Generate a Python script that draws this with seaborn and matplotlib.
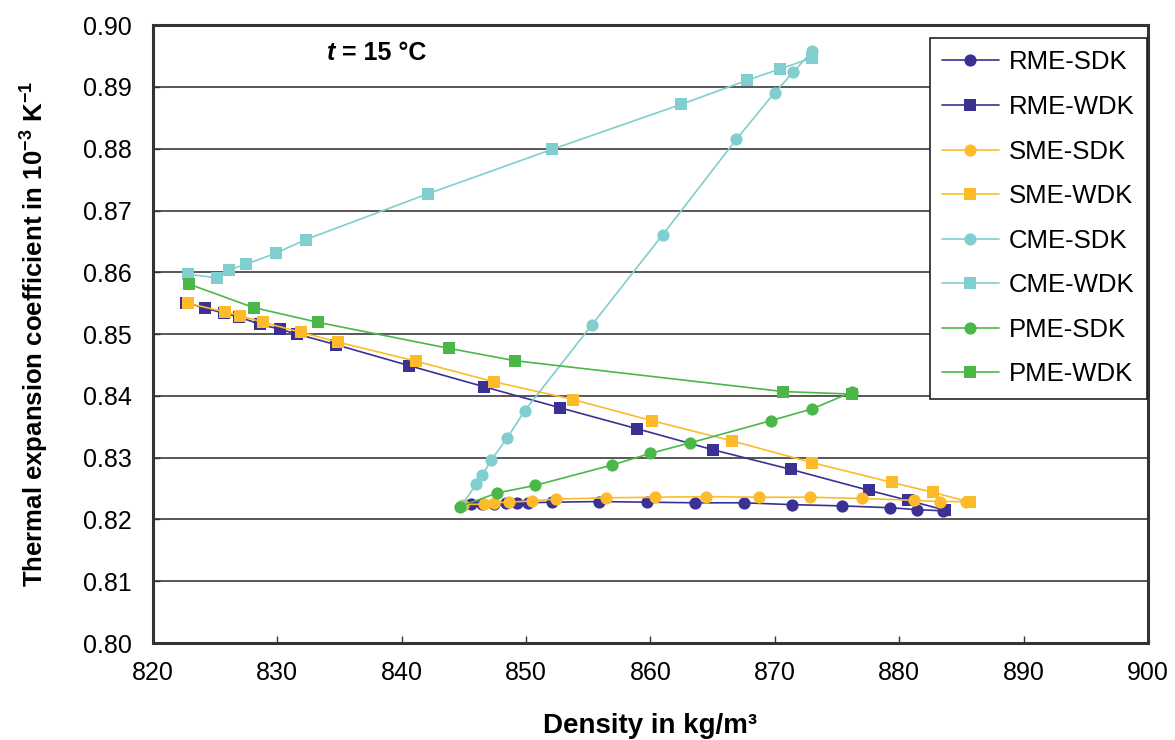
import numpy as np
import pandas as pd
import matplotlib.pyplot as plt
import seaborn as sns

# density (kg/m3) and thermal expansion coefficient (1e-3 1/K)
rme_sdk_x = [845.6, 846.5, 847.4, 848.4, 849.3, 850.2, 852.1, 855.9, 859.7, 863.6, 867.5, 871.4, 875.4, 879.3, 881.4, 883.5]
rme_sdk_y = [0.8225, 0.8225, 0.8225, 0.8226, 0.8226, 0.8227, 0.8228, 0.8229, 0.8228, 0.8227, 0.8227, 0.8224, 0.8222, 0.8219, 0.8216, 0.8214]

rme_wdk_x = [822.7, 824.2, 825.7, 826.9, 828.6, 830.2, 831.6, 834.7, 840.6, 846.6, 852.7, 858.9, 865.0, 871.3, 877.6, 880.7, 883.7]
rme_wdk_y = [0.8551, 0.8542, 0.8534, 0.8528, 0.8516, 0.8508, 0.8500, 0.8483, 0.8449, 0.8415, 0.8381, 0.8347, 0.8313, 0.8281, 0.8247, 0.8231, 0.8215]

sme_sdk_x = [844.9, 846.6, 847.4, 848.6, 850.5, 852.4, 856.4, 860.4, 864.5, 868.7, 872.8, 877.0, 881.2, 883.3, 885.4]
sme_sdk_y = [0.8224, 0.8225, 0.8227, 0.8228, 0.8230, 0.8233, 0.8235, 0.8236, 0.8237, 0.8236, 0.8236, 0.8234, 0.8231, 0.8229, 0.8229]

sme_wdk_x = [822.8, 825.8, 827.0, 828.9, 831.9, 834.9, 841.2, 847.4, 853.8, 860.1, 866.6, 873.0, 879.4, 882.7, 885.7]
sme_wdk_y = [0.8550, 0.8536, 0.8530, 0.8519, 0.8503, 0.8487, 0.8456, 0.8423, 0.8394, 0.8360, 0.8327, 0.8292, 0.8260, 0.8244, 0.8228]

cme_sdk_x = [844.8, 846.0, 846.5, 847.2, 848.5, 849.9, 855.3, 861.0, 866.9, 870.0, 871.5, 873.0]
cme_sdk_y = [0.8222, 0.8257, 0.8272, 0.8296, 0.8332, 0.8376, 0.8515, 0.8661, 0.8815, 0.8891, 0.8924, 0.8958]

cme_wdk_x = [822.8, 825.2, 826.1, 827.5, 829.9, 832.3, 842.1, 852.1, 862.5, 867.8, 870.4, 873.0]
cme_wdk_y = [0.8597, 0.8591, 0.8604, 0.8613, 0.8631, 0.8653, 0.8727, 0.8799, 0.8872, 0.8911, 0.8929, 0.8947]

pme_sdk_x = [844.7, 847.7, 850.7, 856.9, 860.0, 863.2, 869.7, 873.0, 876.2]
pme_sdk_y = [0.8221, 0.8243, 0.8255, 0.8288, 0.8307, 0.8324, 0.8360, 0.8379, 0.8406]

pme_wdk_x = [822.9, 828.1, 833.3, 843.8, 849.1, 870.7, 876.2]
pme_wdk_y = [0.8581, 0.8543, 0.8519, 0.8477, 0.8457, 0.8407, 0.8403]

series = {
    'RME-SDK': (rme_sdk_x, rme_sdk_y),
    'RME-WDK': (rme_wdk_x, rme_wdk_y),
    'SME-SDK': (sme_sdk_x, sme_sdk_y),
    'SME-WDK': (sme_wdk_x, sme_wdk_y),
    'CME-SDK': (cme_sdk_x, cme_sdk_y),
    'CME-WDK': (cme_wdk_x, cme_wdk_y),
    'PME-SDK': (pme_sdk_x, pme_sdk_y),
    'PME-WDK': (pme_wdk_x, pme_wdk_y),
}
colors = {'RME': '#3a3192', 'SME': '#fdbb2c', 'CME': '#80cfce', 'PME': '#4bb749'}

sns.set_style('white')
plt.rcParams['font.family'] = ['Liberation Sans', 'DejaVu Sans']
plt.rcParams['mathtext.fontset'] = 'custom'
plt.rcParams['mathtext.rm'] = 'Liberation Sans'
plt.rcParams['mathtext.bf'] = 'Liberation Sans:bold'
plt.rcParams['text.color'] = 'black'
plt.rcParams['axes.labelcolor'] = 'black'
plt.rcParams['xtick.color'] = 'black'
plt.rcParams['ytick.color'] = 'black'

fig = plt.figure(figsize=(11.75, 7.4), dpi=100)
ax = fig.add_axes([0.130, 0.131, 0.847, 0.835])

for name, (xs, ys) in series.items():
    df = pd.DataFrame({'density': xs, 'coef': ys})
    fuel, kind = name.split('-')
    if kind == 'SDK':
        mk, ms = 'o', 8.8
    else:
        mk, ms = 's', 8.0
    sns.lineplot(data=df, x='density', y='coef', ax=ax, sort=False, estimator=None,
                 color=colors[fuel], marker=mk, markersize=ms, markeredgewidth=0,
                 linewidth=1.2, label=name)

ax.set_xlim(820, 900)
ax.set_ylim(0.80, 0.90)
ax.set_xticks(np.arange(820, 901, 10))
ax.set_yticks(np.arange(0.80, 0.901, 0.01))
ax.yaxis.set_major_formatter(plt.FormatStrFormatter('%.2f'))
ax.yaxis.grid(True, color='#4a4a4a', linewidth=1.3)
ax.set_axisbelow(True)
for sp in ax.spines.values():
    sp.set_color('#333333')
    sp.set_linewidth(2.2)
ax.tick_params(axis='both', direction='in', length=5, width=1, color='#333333',
               labelcolor='black', labelsize=18, pad=13)
ax.tick_params(axis='y', left=True, pad=15)
ax.tick_params(axis='x', bottom=True)

ax.set_xlabel('Density in kg/m³', fontsize=20, fontweight='bold', labelpad=20)
ax.set_ylabel(r'Thermal expansion coefficient in 10$^{\mathbf{-3}}$ K$^{\mathbf{-1}}$',
              fontsize=18.5, fontweight='bold', labelpad=24)

t1 = ax.text(834.0, 0.8955, 't', fontsize=18, fontweight='bold', fontstyle='italic',
             va='center', ha='left')
ax.annotate(' = 15 °C', xy=(1, 0), xycoords=t1, va='bottom', ha='left',
            fontsize=18, fontweight='bold')

leg = ax.legend(loc='upper right', bbox_to_anchor=(0.999, 0.979), borderaxespad=0,
                fontsize=18.5, frameon=True, fancybox=False, edgecolor='#222222',
                framealpha=1, handlelength=2.2, labelspacing=0.8, borderpad=0.48,
                handletextpad=0.4)
leg.get_frame().set_linewidth(1.2)

plt.savefig('out.png', dpi=100)
plt.close()
